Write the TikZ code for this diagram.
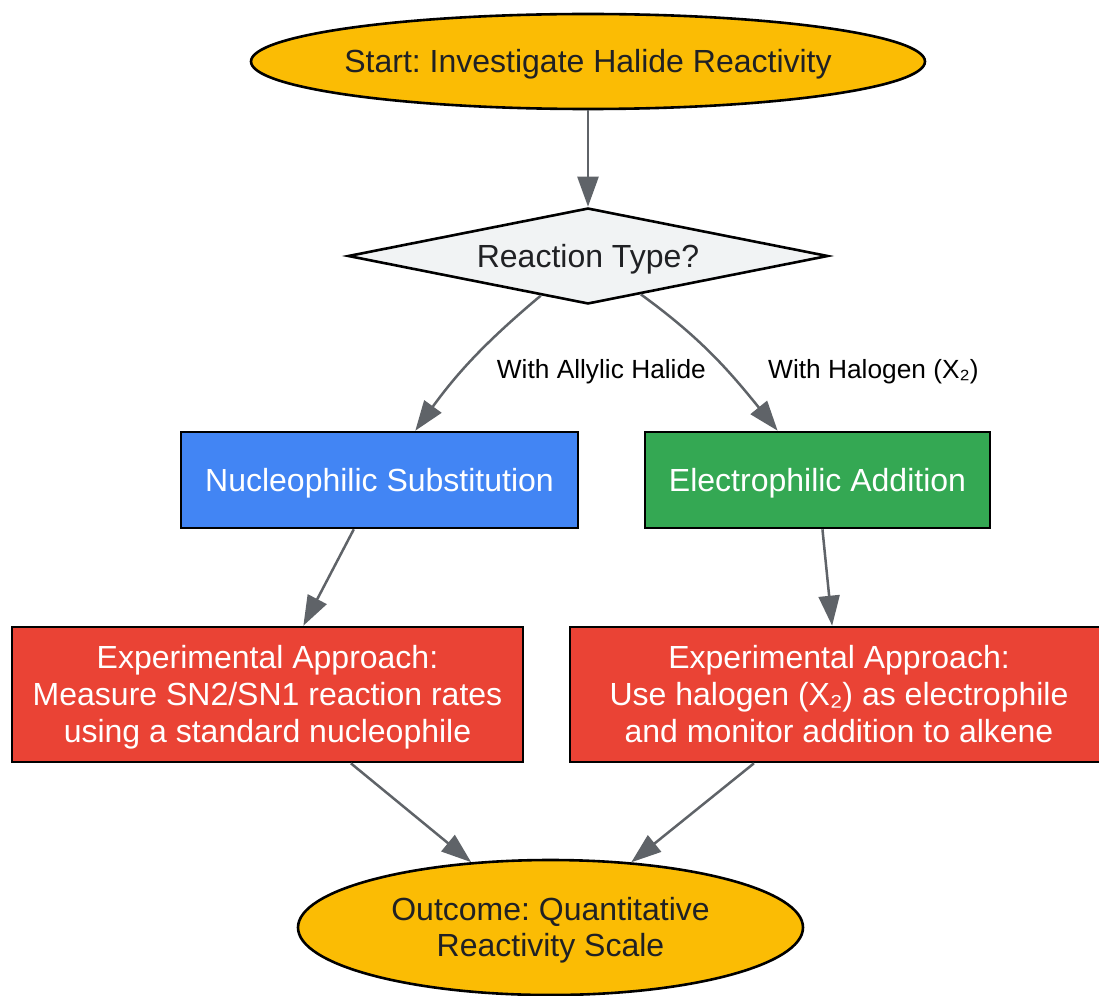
\documentclass[tikz,border=0pt]{standalone}
\usepackage{fontspec}
\setmainfont{Liberation Sans}
\usetikzlibrary{shapes.geometric,arrows.meta}
\definecolor{termfill}{HTML}{FBBC04}
\definecolor{askfill}{HTML}{F1F3F4}
\definecolor{nucfill}{HTML}{4285F4}
\definecolor{elefill}{HTML}{34A853}
\definecolor{expfill}{HTML}{EA4335}
\definecolor{darktext}{HTML}{202124}
\definecolor{flowgray}{HTML}{5F6368}
% line struts so that text sits in its box as in the layout
\newcommand{\ascstrut}{\rule{0pt}{29pt}}
\newcommand{\descstrut}{\rule[-6.8pt]{0pt}{0pt}}
\frenchspacing

\begin{document}
\begin{tikzpicture}[x=1pt, y=1pt, term/.style={ellipse, draw, line width=2.6pt, fill=termfill, text=darktext, inner sep=0pt, align=center, font=\fontsize{32}{36}\selectfont}, decision/.style={diamond, aspect=5, draw, line width=2.6pt, fill=askfill, text=darktext, inner sep=0pt, minimum width=480pt, minimum height=96pt, font=\fontsize{32}{36}\selectfont}, proc/.style={rectangle, draw, line width=2.6pt, text=white, inner sep=0pt, align=center, font=\fontsize{32}{37}\selectfont}, flow/.style={color=flowgray, line width=2.5pt, -{Triangle[length=30pt, width=21pt]}}, lbl/.style={text=black, inner sep=0pt, font=\fontsize{26.3}{30}\selectfont}]
      \useasboundingbox (0,0) rectangle (1099,-995);

      \node [term, minimum width=674pt, minimum height=95pt, inner xsep=-12pt] (start) at (588,-61.5) {\ascstrut Start: Investigate Halide Reactivity\descstrut};

      \node [decision] (type) at (588,-256) {\ascstrut Reaction Type?\descstrut};

      \node [proc, fill=nucfill, minimum width=397pt, minimum height=96pt] (nucsub) at (379.5,-480) {\ascstrut Nucleophilic Substitution\descstrut};

      \node [proc, fill=elefill, minimum width=345pt, minimum height=96pt] (eleadd) at (817.5,-480) {\ascstrut Electrophilic Addition\descstrut};

      \node [proc, fill=expfill, minimum width=511pt, minimum height=135pt] (nucexp) at (267.5,-694.5) {\ascstrut Experimental Approach:\\ Measure SN2/SN1 reaction rates\\ using a standard nucleophile\descstrut};

      \node [proc, fill=expfill, minimum width=538pt, minimum height=135pt] (eleexp) at (839,-694.5) {\ascstrut Experimental Approach:\\ Use halogen (X₂) as electrophile\\ and monitor addition to alkene\descstrut};

      \node [term, minimum width=505pt, minimum height=135pt] (outcome) at (550.5,-927.5) {\ascstrut Outcome: Quantitative\\ Reactivity Scale\descstrut};

      \path (start) edge[flow] (type);

      \path (type) edge[flow, out=220, in=54] node[lbl, right=22.4pt, yshift=-12.6pt] {With Allylic Halide} (nucsub);

      \path (type) edge[flow, out=-36, in=129] node[lbl, right=52.6pt, yshift=-14pt] {With Halogen (X₂)} (eleadd);

      \path (nucsub) edge[flow] (nucexp);

      \path (eleadd) edge[flow] (eleexp);

      \path (nucexp) edge[flow] (outcome);

      \path (eleexp) edge[flow] (outcome);
    \end{tikzpicture}
\end{document}
